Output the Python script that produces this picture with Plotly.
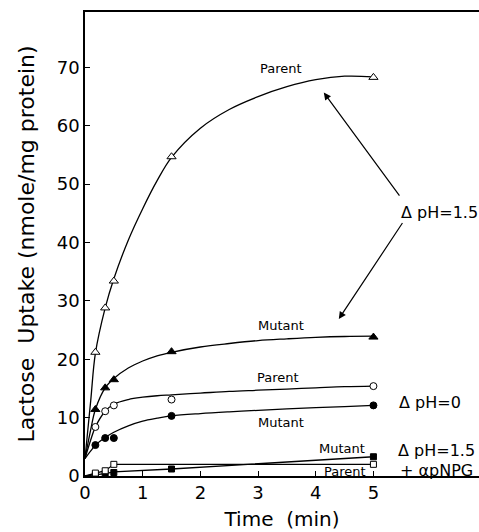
import plotly.graph_objects as go

# Measured points (time in min, uptake in nmole/mg protein)
time_points = [0.18, 0.35, 0.5, 1.5, 5.0]
parent_dph15 = [21.2, 28.8, 33.4, 54.7, 68.3]
mutant_dph15 = [11.4, 15.1, 16.5, 21.3, 23.8]
parent_dph0 = [8.4, 11.1, 12.1, 13.1, 15.4]
mutant_dph0 = [5.3, 6.5, 6.5, 10.3, 12.1]
mutant_pnpg = [0.2, 0.4, 0.6, 1.2, 3.3]
parent_pnpg_t = [0.18, 0.35, 0.5, 5.0]
parent_pnpg = [0.5, 0.9, 2.0, 2.0]

# Hand-drawn fitted curves
curve_t = [0, 0.1, 0.18, 0.35, 0.5, 0.75, 1.0, 1.25, 1.5, 2.0, 2.5, 3.0, 3.5, 4.0, 4.5, 5.0]
parent_dph15_curve = [3, 13, 21, 28.8, 33.8, 40.4, 45.8, 50.6, 54.6, 59.6, 62.8, 65.0, 66.7, 67.9, 68.5, 68.4]
mutant_dph15_curve = [3, 8, 11.4, 15.1, 16.7, 18.5, 19.7, 20.6, 21.2, 22.1, 22.7, 23.2, 23.5, 23.75, 23.9, 23.95]
parent_dph0_curve = [3, 6.2, 8.4, 11.1, 12.3, 13.1, 13.5, 13.75, 13.9, 14.2, 14.5, 14.7, 14.9, 15.1, 15.3, 15.4]
mutant_dph0_curve = [3, 4.3, 5.3, 6.6, 7.5, 8.6, 9.4, 9.9, 10.3, 10.7, 11.0, 11.25, 11.5, 11.7, 11.9, 12.1]
pnpg_line_t = [0, 0.18, 0.35, 0.5, 1.5, 5.0]
mutant_pnpg_line = [0, 0.2, 0.4, 0.7, 1.2, 3.3]
parent_pnpg_line_t = [0, 0.18, 0.35, 0.5, 5.0]
parent_pnpg_line = [0, 0.5, 0.9, 2.0, 2.0]

x_ticks = [0, 1, 2, 3, 4, 5]
y_ticks = [0, 10, 20, 30, 40, 50, 60, 70]

FONT = "DejaVu Sans"
LINE = dict(color="black", width=1.3)

fig = go.Figure()

def curve(x, y, shape="spline"):
    fig.add_trace(go.Scatter(x=x, y=y, mode="lines", line=dict(LINE, shape=shape, smoothing=1.0),
                             hoverinfo="skip", showlegend=False))

def points(x, y, symbol, filled, size):
    fig.add_trace(go.Scatter(
        x=x, y=y, mode="markers", showlegend=False,
        marker=dict(symbol=symbol, size=size, color="black" if filled else "white",
                    line=dict(color="black", width=1))))

curve(curve_t, parent_dph15_curve)
curve(curve_t, mutant_dph15_curve)
curve(curve_t, parent_dph0_curve)
curve(curve_t, mutant_dph0_curve)
curve(pnpg_line_t, mutant_pnpg_line, "linear")
curve(parent_pnpg_line_t, parent_pnpg_line, "linear")

points(time_points, parent_dph15, "triangle-up", False, 8)
points(time_points, mutant_dph15, "triangle-up", True, 8)
points(time_points, parent_dph0, "circle", False, 7)
points(time_points, mutant_dph0, "circle", True, 7)
points(time_points, mutant_pnpg, "square", True, 6)
points(parent_pnpg_t, parent_pnpg, "square", False, 6)

small = dict(family=FONT, size=13, color="black")
big = dict(family=FONT, size=16, color="black")
labels = [
    ("Parent", 3.4, 69.8, small),
    ("Mutant", 3.4, 25.8, small),
    ("Parent", 3.35, 16.8, small),
    ("Mutant", 3.4, 9.2, small),
    ("Mutant", 4.45, 4.7, small),
    ("Parent", 4.5, 0.8, small),
    ("Δ pH=1.5", 6.15, 45.2, big),
    ("Δ pH=0", 5.98, 12.6, big),
    ("Δ pH=1.5", 6.1, 4.3, big),
    ("+ αpNPG", 6.1, 0.95, big),
]
for text, x, y, f in labels:
    fig.add_annotation(x=x, y=y, xref="x", yref="y", text=text, showarrow=False, font=f)

arrows = [((4.14, 65.7), (5.47, 47.8)), ((4.40, 26.9), (5.52, 43.6))]
for (hx, hy), (tx, ty) in arrows:
    fig.add_annotation(x=hx, y=hy, ax=tx, ay=ty, xref="x", yref="y", axref="x", ayref="y",
                       text="", showarrow=True, arrowhead=2, arrowsize=1.2, arrowwidth=1.2,
                       arrowcolor="black")

fig.update_layout(
    width=479, height=532,
    margin=dict(l=85, r=0, t=12, b=56),
    paper_bgcolor="white", plot_bgcolor="white",
    font=dict(family=FONT, color="black"),
    xaxis=dict(range=[0, 6.83], tickvals=x_ticks, ticktext=[str(v) for v in x_ticks],
               ticks="inside", ticklen=5, tickwidth=1.2, tickcolor="black",
               showline=True, linecolor="black", linewidth=1.5, mirror=True,
               showgrid=False, zeroline=False, tickfont=dict(size=18),
               title=dict(text="Time  (min)", font=dict(size=20), standoff=10)),
    yaxis=dict(range=[0, 79.5], tickvals=y_ticks, ticktext=[str(v) for v in y_ticks],
               ticks="inside", ticklen=5, tickwidth=1.2, tickcolor="black",
               showline=True, linecolor="black", linewidth=1.5,
               showgrid=False, zeroline=False, tickfont=dict(size=18),
               title=dict(text="Lactose  Uptake (nmole/mg protein)", font=dict(size=22), standoff=16)),
)

fig.write_html("out.html")
